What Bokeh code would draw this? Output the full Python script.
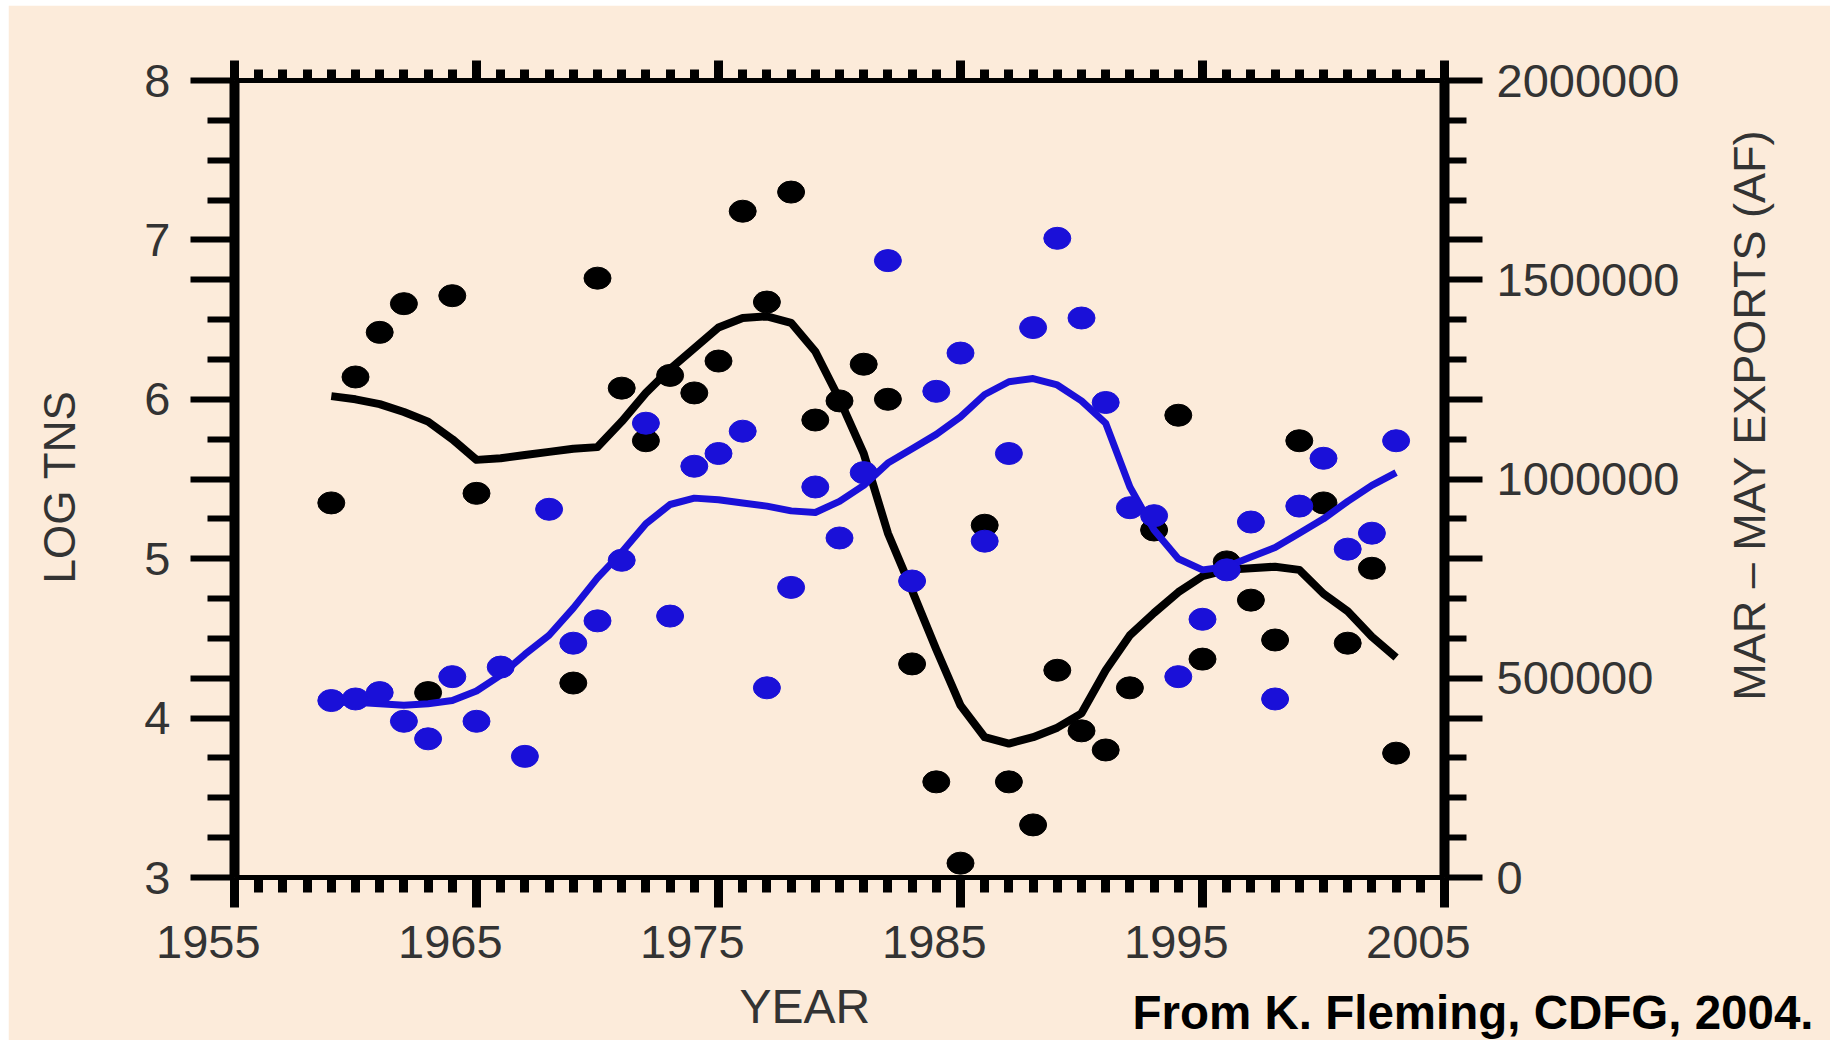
from math import pi
from bokeh.plotting import figure
from bokeh.models import Range1d, LinearAxis, FixedTicker, Label
from bokeh.embed import file_html
from bokeh.resources import INLINE

# ---------------- data ----------------
black_years = [1959, 1960, 1961, 1962, 1963, 1964, 1965, 1969, 1970, 1971, 1972, 1973, 1974,
               1975, 1976, 1977, 1978, 1979, 1980, 1981, 1982, 1983, 1984, 1985, 1986, 1987,
               1988, 1989, 1990, 1991, 1992, 1993, 1994, 1995, 1996, 1997, 1998, 1999, 2000,
               2001, 2002, 2003]
log_tns = [5.35, 6.14, 6.42, 6.60, 4.16, 6.65, 5.41, 4.22, 6.76, 6.07, 5.74, 6.15, 6.04,
           6.24, 7.18, 6.61, 7.30, 5.87, 5.99, 6.22, 6.00, 4.34, 3.60, 3.09, 5.21, 3.60,
           3.33, 4.30, 3.92, 3.80, 4.19, 5.18, 5.90, 4.37, 4.98, 4.74, 4.49, 5.74, 5.35,
           4.47, 4.94, 3.78]

blue_years = list(range(1959, 2004))
exports_af = [444000, 448000, 464000, 392000, 348000, 504000, 392000, 528000, 304000, 924000,
              588000, 644000, 796000, 1140000, 656000, 1032000, 1064000, 1120000, 476000, 728000,
              980000, 852000, 1016000, 1548000, 744000, 1220000, 1316000, 844000, 1064000, 1380000,
              1604000, 1404000, 1192000, 928000, 908000, 504000, 648000, 772000, 892000, 448000,
              932000, 1052000, 824000, 864000, 1096000]

smooth_years = list(range(1959, 2004))
log_tns_smooth = [6.02, 6.00, 5.97, 5.92, 5.86, 5.75, 5.62, 5.63, 5.65, 5.67, 5.69, 5.70,
                  5.86, 6.04, 6.19, 6.32, 6.45, 6.51, 6.52, 6.48, 6.30, 6.00, 5.66, 5.16,
                  4.80, 4.43, 4.08, 3.88, 3.84, 3.88, 3.94, 4.03, 4.30, 4.52, 4.66, 4.79,
                  4.89, 4.93, 4.94, 4.95, 4.93, 4.78, 4.67, 4.51, 4.38]
exports_smooth = [440000, 440000, 436000, 432000, 436000, 444000, 468000, 508000, 560000,
                  608000, 676000, 752000, 816000, 888000, 936000, 952000, 948000, 940000,
                  932000, 920000, 916000, 944000, 984000, 1040000, 1076000, 1112000, 1156000,
                  1212000, 1244000, 1252000, 1236000, 1196000, 1140000, 980000, 872000,
                  800000, 772000, 780000, 804000, 828000, 864000, 900000, 944000, 984000,
                  1016000]

x_ticks = [1955, 1965, 1975, 1985, 1995, 2005]
x_tick_labels = ["1955", "1965", "1975", "1985", "1995", "2005"]
left_long_ticks = [3, 4, 4.25, 5, 5.5, 6, 6.75, 7, 8]
left_short_ticks = [3.25, 3.5, 3.75, 4.5, 4.75, 5.25, 5.75, 6.25, 6.5, 7.25, 7.5, 7.75]
left_tick_labels = {3: "3", 4: "4", 5: "5", 6: "6", 7: "7", 8: "8"}
right_long_ticks = [0, 400000, 500000, 800000, 1000000, 1200000, 1500000, 1600000, 2000000]
right_short_ticks = [100000, 200000, 300000, 600000, 700000, 900000, 1100000, 1300000,
                     1400000, 1700000, 1800000, 1900000]
right_tick_labels = {0: "0", 500000: "500000", 1000000: "1000000", 1500000: "1500000",
                     2000000: "2000000"}

# ---------------- layout constants ----------------
BG = "#FCEBDA"
FONT = "Liberation Sans"
TXT = "#333333"
BLUE = "#1A10D8"
MARGIN_T, MARGIN_L = 5, 8
W, H = 1822, 1035
FRAME_L, FRAME_R, FRAME_T, FRAME_B = 226, 1436, 75, 872
X0, X1 = 1955, 2005
# year labels sit slightly left of their ticks: pad them on the right with no-break spaces
PAD = "\u00a0" * 4

p = figure(width=W, height=H, output_backend="svg", toolbar_location=None,
           x_range=Range1d(X0, X1), y_range=Range1d(3, 8),
           x_axis_location=None, y_axis_location=None,
           background_fill_color=BG, border_fill_color=BG,
           min_border_left=FRAME_L, min_border_right=W - FRAME_R,
           min_border_top=FRAME_T, min_border_bottom=H - FRAME_B)
p.margin = (MARGIN_T, 0, 0, MARGIN_L)
p.outline_line_color = None
p.grid.grid_line_color = None
p.extra_y_ranges = {"exp": Range1d(0, 2000000)}


def style(ax, lw, tick_w, maj_out, min_out):
    ax.axis_line_color = "black"
    ax.axis_line_width = lw
    ax.major_tick_line_color = "black"
    ax.minor_tick_line_color = "black"
    ax.major_tick_line_width = tick_w
    ax.minor_tick_line_width = tick_w
    ax.major_tick_in = 0
    ax.minor_tick_in = 0
    ax.major_tick_out = maj_out
    ax.minor_tick_out = min_out
    ax.major_label_text_font = FONT
    ax.major_label_text_font_size = "47px"
    ax.major_label_text_color = TXT


x_ticker = FixedTicker(ticks=x_ticks, minor_ticks=list(range(X0, X1 + 1)))

bottom = LinearAxis(ticker=x_ticker,
                    major_label_overrides={t: s + PAD for t, s in zip(x_ticks, x_tick_labels)})
style(bottom, 5, 9, 30, 15)
bottom.major_label_standoff = 7
p.add_layout(bottom, "below")

top = LinearAxis(ticker=x_ticker, major_label_overrides={t: "" for t in x_ticks})
style(top, 5, 9, 20, 11)
top.major_label_text_font_size = "0px"
top.major_label_standoff = 0
p.add_layout(top, "above")

left_over = {t: left_tick_labels.get(t, "") for t in left_long_ticks}
left = LinearAxis(ticker=FixedTicker(ticks=left_long_ticks, minor_ticks=left_short_ticks),
                  major_label_overrides=left_over)
style(left, 10, 6, 44, 27)
left.major_label_standoff = 20
p.add_layout(left, "left")

right_over = {t: right_tick_labels.get(t, "") for t in right_long_ticks}
right = LinearAxis(y_range_name="exp",
                   ticker=FixedTicker(ticks=right_long_ticks, minor_ticks=right_short_ticks),
                   major_label_overrides=right_over)
style(right, 10, 6, 38, 22)
right.major_label_standoff = 14
p.add_layout(right, "right")

# ---------------- titles (placed in side panels so they are not clipped) ----------------
p.add_layout(Label(x=1947.77, y=5.45, text="LOG TNS", angle=pi / 2, text_align="center",
                   text_baseline="middle", text_font=FONT, text_font_size="44px",
                   text_color=TXT), "left")
p.add_layout(Label(x=2017.6, y=5.90, text="MAR \u2013 MAY EXPORTS (AF)", angle=pi / 2,
                   text_align="center", text_baseline="middle", text_font=FONT,
                   text_font_size="45px", text_color=TXT), "right")
p.add_layout(Label(x=1978.57, y=2.19, text="YEAR", text_align="center",
                   text_baseline="middle", text_font=FONT, text_font_size="48px",
                   text_color=TXT), "below")
p.add_layout(Label(x=1992.11, y=2.15, text="From K. Fleming, CDFG, 2004.",
                   text_align="left", text_baseline="middle", text_font=FONT,
                   text_font_size="47.5px", text_font_style="bold", text_color="black"),
             "above")

# ---------------- data marks ----------------
p.line(smooth_years, log_tns_smooth, line_color="black", line_width=8, line_join="round")
p.ellipse(x=black_years, y=log_tns, width=27, height=22, width_units="screen",
          height_units="screen", fill_color="black", line_color="black")
p.line(smooth_years, exports_smooth, y_range_name="exp", line_color=BLUE, line_width=7,
       line_join="round")
p.ellipse(x=blue_years, y=exports_af, y_range_name="exp", width=27, height=22,
          width_units="screen", height_units="screen", fill_color=BLUE, line_color=BLUE)

open("out.html", "w").write(file_html(p, INLINE))
